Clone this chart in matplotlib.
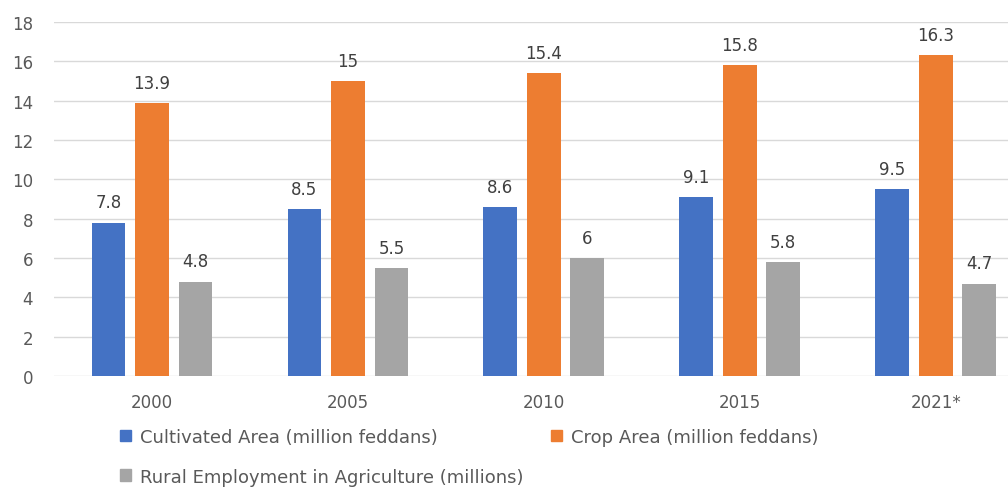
import matplotlib.pyplot as plt
import numpy as np
from matplotlib.patches import Patch

plt.rcParams["font.family"] = ["DejaVu Sans"]

years = ["2000", "2005", "2010", "2015", "2021*"]
cultivated = [7.8, 8.5, 8.6, 9.1, 9.5]
crop = [13.9, 15, 15.4, 15.8, 16.3]
rural = [4.8, 5.5, 6, 5.8, 4.7]

series_names = [
    "Cultivated Area (million feddans)",
    "Crop Area (million feddans)",
    "Rural Employment in Agriculture (millions)",
]
colors = ["#4472C4", "#ED7D31", "#A5A5A5"]

fig = plt.figure(figsize=(10.08, 4.89), dpi=100)
ax = fig.add_axes([0.0536, 0.229, 0.972, 0.724])

x = np.arange(len(years))
width = 0.173
offset = 0.222

for i, values in enumerate([cultivated, crop, rural]):
    bars = ax.bar(x + (i - 1) * offset, values, width, color=colors[i],
                  label=series_names[i], zorder=3)
    for rect, v in zip(bars, values):
        ax.annotate(f"{v:g}", (rect.get_x() + rect.get_width() / 2, v),
                    xytext=(0, 8), textcoords="offset points",
                    ha="center", va="bottom", fontsize=12, color="#404040")

ax.set_xlim(-0.5, len(years) - 0.5)
ax.set_ylim(0, 18)
ax.set_yticks(range(0, 19, 2))
ax.set_xticks(x)
ax.set_xticklabels(years)
ax.tick_params(axis="both", length=0, labelsize=12, labelcolor="#595959")
ax.tick_params(axis="x", pad=12)
ax.tick_params(axis="y", pad=15)
ax.grid(axis="y", color="#d9d9d9", linewidth=1, zorder=0)
for spine in ax.spines.values():
    spine.set_visible(False)

handles = [Patch(color=c) for c in colors]
order = [0, 2, 1]
leg = fig.legend([handles[i] for i in order], [series_names[i] for i in order],
                 ncol=2, loc="center left", bbox_to_anchor=(0.119, 0.064),
                 frameon=False, fontsize=13, handlelength=0.6, handleheight=0.6,
                 handletextpad=0.5, labelspacing=1.2, columnspacing=1.55,
                 borderaxespad=0, borderpad=0)
for t in leg.get_texts():
    t.set_color("#595959")

fig.savefig("out.png", dpi=100)
